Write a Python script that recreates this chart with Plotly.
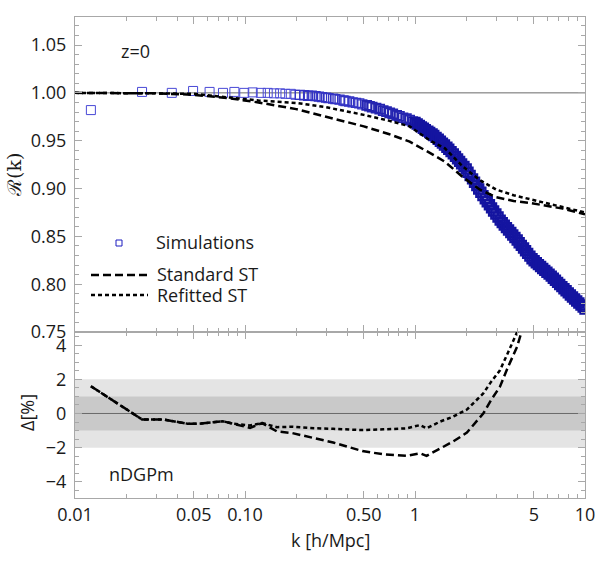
import plotly.graph_objects as go

# ---------------- data ----------------
# Simulations (top panel): k [h/Mpc] and R(k)
sim_k = [0.0124, 0.0248, 0.0371, 0.0495, 0.0619, 0.0742, 0.0866, 0.099, 0.111, 0.124,
         0.136, 0.148, 0.161, 0.173, 0.186, 0.198, 0.21, 0.223, 0.235, 0.247,
         0.26, 0.272, 0.284,
         0.30, 0.31, 0.33, 0.34, 0.36, 0.38, 0.39, 0.41, 0.43, 0.45, 0.47, 0.49, 0.52, 0.54,
         0.56, 0.59, 0.62, 0.65, 0.68, 0.71, 0.74, 0.78, 0.81, 0.85, 0.89, 0.93, 0.97,
         1.00, 1.03, 1.06, 1.09, 1.12, 1.15, 1.19, 1.22, 1.26, 1.29, 1.33, 1.37, 1.41, 1.45,
         1.49, 1.54, 1.58, 1.63, 1.68, 1.73, 1.78, 1.83, 1.88, 1.94, 2.00, 2.05, 2.11, 2.18,
         2.24, 2.31, 2.37, 2.44, 2.51, 2.59, 2.66, 2.74, 2.82, 2.90, 2.99, 3.08, 3.17, 3.26,
         3.35, 3.45, 3.55, 3.66, 3.76, 3.87, 3.99, 4.10, 4.22, 4.35, 4.47, 4.60, 4.74, 4.88,
         5.02, 5.17, 5.32, 5.48, 5.64, 5.80, 5.97, 6.15, 6.33, 6.51, 6.70, 6.90, 7.10, 7.31,
         7.52, 7.74, 7.97, 8.20, 8.44, 8.69, 8.94, 9.20, 9.47, 9.75, 10.0]
sim_R = [0.982, 1.001, 1.000, 1.002, 1.001, 1.000, 1.001, 1.000, 1.0005, 1.000,
         1.000, 0.9995, 0.9995, 0.999, 0.999, 0.998, 0.998, 0.9975, 0.997, 0.997,
         0.9965, 0.996, 0.9955,
         0.995, 0.9945, 0.994, 0.9935, 0.993, 0.992, 0.9915, 0.991, 0.990, 0.9895, 0.989,
         0.988, 0.987, 0.986, 0.985, 0.984, 0.983, 0.9815, 0.9805, 0.979, 0.978, 0.9765,
         0.9755, 0.974, 0.973, 0.9715, 0.970,
         0.969, 0.9675, 0.966, 0.9645, 0.963, 0.9615, 0.960, 0.9585, 0.957, 0.9555, 0.9535,
         0.9515, 0.9495, 0.9475, 0.9455, 0.9432, 0.941, 0.9386, 0.9362, 0.9336, 0.931,
         0.9284, 0.9258, 0.9232, 0.9206, 0.9171, 0.9136, 0.9101, 0.9066, 0.9031, 0.8996,
         0.8961, 0.8926, 0.8894, 0.8862, 0.883, 0.8798, 0.8766, 0.8734, 0.8702, 0.867,
         0.8644, 0.8618, 0.8592, 0.8566, 0.854, 0.8514, 0.8488, 0.8462, 0.8434, 0.8406,
         0.8378, 0.835, 0.8322, 0.8294, 0.8266, 0.8245, 0.8225, 0.8205, 0.8185, 0.8165,
         0.8145, 0.8125, 0.8105, 0.8085, 0.8063, 0.8041, 0.8019, 0.7997, 0.7975, 0.7953,
         0.7931, 0.7909, 0.7888, 0.7867, 0.7846, 0.7825, 0.7804, 0.7783, 0.7762, 0.7741]

# Model curves (top panel)
model_k = [0.01, 0.02, 0.03, 0.05, 0.08, 0.12, 0.2, 0.3, 0.5, 0.7, 0.93, 1.23, 1.5,
           1.91, 2.4, 3.0, 3.8, 4.74, 6.0, 7.4, 10.0]
standard_R = [1.000, 1.000, 0.9995, 0.998, 0.9945, 0.990, 0.983, 0.975, 0.965, 0.957,
              0.949, 0.937, 0.928, 0.912, 0.899, 0.891, 0.887, 0.885, 0.882, 0.879, 0.873]
refitted_R = [1.000, 1.000, 0.9995, 0.999, 0.995, 0.992, 0.9895, 0.985, 0.977, 0.971,
              0.965, 0.950, 0.942, 0.923, 0.909, 0.899, 0.893, 0.889, 0.885, 0.881, 0.875]

# Relative deviation Delta [%] (bottom panel)
delta_k = [0.0124, 0.0248, 0.033, 0.046, 0.054, 0.074, 0.085, 0.107, 0.126, 0.154, 0.19,
           0.24, 0.33, 0.49, 0.65, 0.89, 1.07, 1.17, 1.4, 1.67, 2.02, 2.3, 2.52, 2.8,
           3.16, 3.5, 3.98, 4.3]
standard_delta = [1.6, -0.35, -0.35, -0.6, -0.6, -0.45, -0.6, -0.84, -0.56, -1.05, -1.15,
                  -1.4, -1.7, -2.2, -2.39, -2.48, -2.33, -2.48, -2.04, -1.65, -1.12, -0.48,
                  0.0, 0.78, 1.57, 2.65, 3.9, 5.0]
refitted_delta = [1.6, -0.35, -0.35, -0.6, -0.6, -0.45, -0.6, -0.7, -0.56, -0.8, -0.78,
                  -0.85, -0.9, -0.97, -0.93, -0.87, -0.68, -0.87, -0.48, -0.19, 0.23, 0.78,
                  1.17, 1.85, 2.53, 3.5, 4.7, 5.5]

x_tickvals = [0.01, 0.05, 0.1, 0.5, 1, 5, 10]
x_ticktext = ["0.01", "0.05", "0.10", "0.50", "1", "5", "10"]
x_minor = [0.02, 0.03, 0.04, 0.06, 0.07, 0.08, 0.09, 0.2, 0.3, 0.4, 0.6, 0.7, 0.8, 0.9,
           2, 3, 4, 6, 7, 8, 9]
top_yticks = [0.75, 0.80, 0.85, 0.90, 0.95, 1.00, 1.05]
bot_yticks = [-4, -2, 0, 2, 4]
bot_yticktext = ["\u22124", "\u22122", "0", "2", "4"]
bands = [(2, "#e4e4e4"), (1, "#c9c9c9")]

# ---------------- figure ----------------
FONT = "Open Sans"
frame = "#a8a8a8"
txt = "#1a1a1a"

# square outline: thin/light where isolated, heavier/darker where the points pile up
sim_line_w = [1.0 if k < 0.2 else (1.3 if k < 0.5 else (1.7 if k < 1.0 else 2.4)) for k in sim_k]
sim_color = ["#4848d6" if k < 0.2 else ("#3333c4" if k < 0.5 else ("#2424b0" if k < 1.0 else "#1414a0"))
             for k in sim_k]

fig = go.Figure()

fig.add_trace(go.Scatter(x=sim_k, y=sim_R, mode="markers", xaxis="x", yaxis="y",
                         marker=dict(symbol="square-open", size=9, color=sim_color,
                                     line=dict(width=sim_line_w, color=sim_color)),
                         showlegend=False))
fig.add_trace(go.Scatter(x=model_k, y=refitted_R, mode="lines", xaxis="x", yaxis="y",
                         line=dict(color="black", width=2.5, dash="4px,3px"),
                         showlegend=False))
fig.add_trace(go.Scatter(x=model_k, y=standard_R, mode="lines", xaxis="x", yaxis="y",
                         line=dict(color="black", width=2.5, dash="8px,4px"),
                         showlegend=False))
fig.add_trace(go.Scatter(x=delta_k, y=refitted_delta, mode="lines", xaxis="x2", yaxis="y2",
                         line=dict(color="black", width=2.5, dash="4px,3px"),
                         showlegend=False))
fig.add_trace(go.Scatter(x=delta_k, y=standard_delta, mode="lines", xaxis="x2", yaxis="y2",
                         line=dict(color="black", width=2.5, dash="8px,4px"),
                         showlegend=False))

shapes = []
for lim, col in bands:
    shapes.append(dict(type="rect", xref="x2 domain", yref="y2", x0=0, x1=1, y0=-lim, y1=lim,
                       fillcolor=col, line=dict(width=0), layer="below"))
shapes.append(dict(type="line", xref="x2 domain", yref="y2", x0=0, x1=1, y0=0, y1=0,
                   line=dict(color="#6a6a6a", width=1), layer="below"))
shapes.append(dict(type="line", xref="x domain", yref="y", x0=0, x1=1, y0=1, y1=1,
                   line=dict(color="#6a6a6a", width=1), layer="below"))

# manual legend (paper coords from pixel positions)
W, H, L, R, T, B = 600, 563, 75, 15, 17, 65
PW, PH = W - L - R, H - T - B
def px(x):
    return (x - L) / PW
def py(y):
    return (H - B - y) / PH

shapes.append(dict(type="rect", xref="paper", yref="paper",
                   x0=px(116), x1=px(122), y0=py(246), y1=py(240),
                   line=dict(color="#1c1cc0", width=1), fillcolor="rgba(0,0,0,0)"))
shapes.append(dict(type="line", xref="paper", yref="paper", x0=px(91), x1=px(148),
                   y0=py(275), y1=py(275), line=dict(color="black", width=2.5, dash="8px,4px")))
shapes.append(dict(type="line", xref="paper", yref="paper", x0=px(91), x1=px(148),
                   y0=py(295), y1=py(295), line=dict(color="black", width=2.5, dash="4px,3px")))

ann_font = dict(family=FONT, size=18, color=txt)
annotations = [
    dict(text="Simulations", x=px(154), y=py(242), xref="paper", yref="paper",
         xanchor="left", yanchor="middle", showarrow=False, font=ann_font),
    dict(text="Standard ST", x=px(155), y=py(274), xref="paper", yref="paper",
         xanchor="left", yanchor="middle", showarrow=False, font=ann_font),
    dict(text="Refitted ST", x=px(155), y=py(295), xref="paper", yref="paper",
         xanchor="left", yanchor="middle", showarrow=False, font=ann_font),
    dict(text="z=0", x=px(135), y=py(51), xref="paper", yref="paper",
         xanchor="center", yanchor="middle", showarrow=False, font=ann_font),
    dict(text="nDGPm", x=px(141), y=py(474), xref="paper", yref="paper",
         xanchor="center", yanchor="middle", showarrow=False, font=ann_font),
    dict(text="k [h/Mpc]", x=px(330), y=py(540), xref="paper", yref="paper",
         xanchor="center", yanchor="middle", showarrow=False, font=ann_font),
    dict(text="\u211B(k)", x=px(14), y=py(175), xref="paper", yref="paper",
         xanchor="center", yanchor="middle", showarrow=False, textangle=-90,
         font=dict(family="DejaVu Serif", size=19, color=txt)),
    dict(text="\u0394[%]", x=px(27), y=py(413), xref="paper", yref="paper",
         xanchor="center", yanchor="middle", showarrow=False, textangle=-90, font=ann_font),
]

tickfont = dict(family=FONT, size=18, color=txt)
common_x = dict(type="log", range=[-2, 1], showgrid=False, zeroline=False, automargin=False,
                showline=True, linecolor=frame, linewidth=1, mirror="ticks",
                ticks="inside", ticklen=7, tickcolor=frame, tickwidth=1,
                tickmode="array", tickvals=x_tickvals, ticktext=x_ticktext,
                minor=dict(tickmode="array", tickvals=x_minor, ticks="inside", ticklen=4,
                           tickcolor=frame, tickwidth=1, showgrid=False),
                tickfont=tickfont)
common_y = dict(showgrid=False, zeroline=False, automargin=False,
                showline=True, linecolor=frame, linewidth=1, mirror="ticks",
                ticks="inside", ticklen=7, tickcolor=frame, tickwidth=1,
                tickmode="array", tickfont=tickfont, ticklabelstandoff=4)

fig.update_layout(
    width=W, height=H,
    margin=dict(l=L, r=R, t=T, b=B),
    paper_bgcolor="white", plot_bgcolor="white",
    showlegend=False,
    xaxis=dict(common_x, anchor="y", showticklabels=False, matches="x2"),
    xaxis2=dict(common_x, anchor="y2", showticklabels=True, ticklabelstandoff=0),
    yaxis=dict(common_y, domain=[0.345, 1], range=[0.75, 1.0793],
               tickvals=top_yticks, tickformat=".2f",
               minor=dict(dtick=0.01, ticks="inside", ticklen=4, tickcolor=frame,
                          tickwidth=1, showgrid=False)),
    yaxis2=dict(common_y, domain=[0, 0.345], range=[-4.95, 4.77],
                tickvals=bot_yticks, ticktext=bot_yticktext,
                minor=dict(dtick=0.5, ticks="inside", ticklen=4, tickcolor=frame,
                           tickwidth=1, showgrid=False)),
    shapes=shapes,
    annotations=annotations,
)

fig.write_html("out.html")
